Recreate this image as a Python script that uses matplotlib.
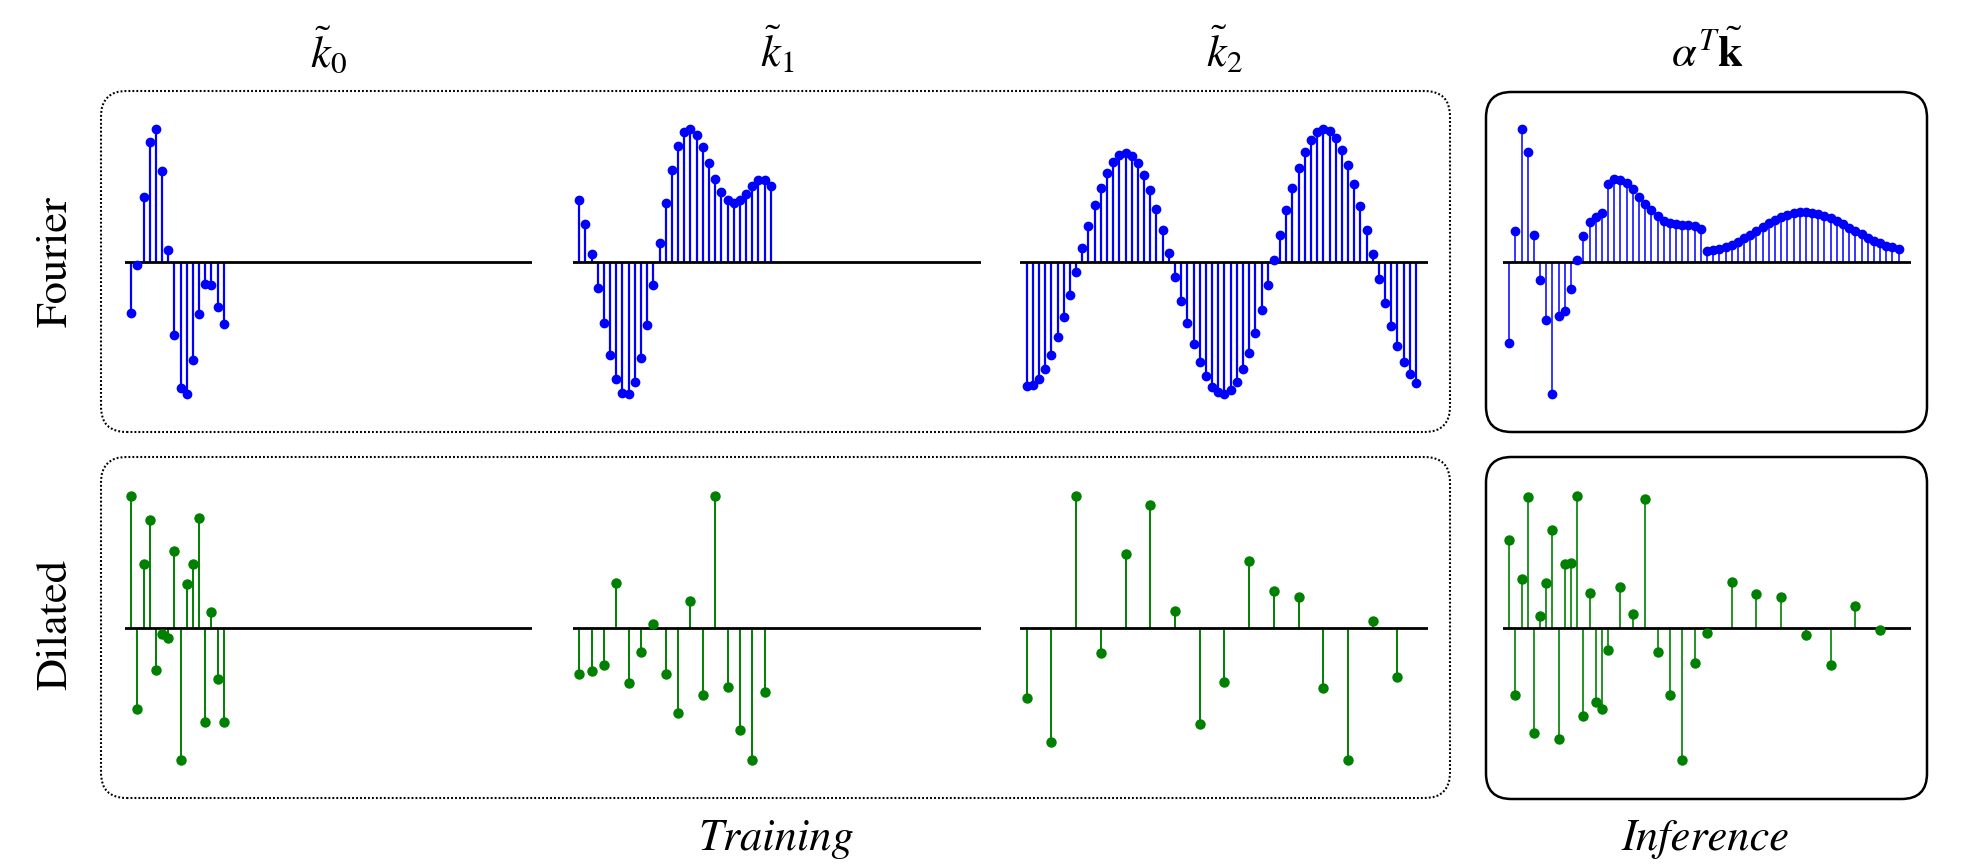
import numpy as np
import matplotlib
matplotlib.use("Agg")
import matplotlib.pyplot as plt
from matplotlib.patches import FancyBboxPatch

plt.rcParams['font.family'] = ['STIXGeneral', 'DejaVu Serif']
plt.rcParams['mathtext.fontset'] = 'stix'

# --- data (normalised to +-1) ---
fourier_k0 = [-0.385, -0.025, 0.489, 0.907, 1.0, 0.688, 0.086, -0.554,
              -0.957, -1.0, -0.746, -0.395, -0.171, -0.176, -0.343, -0.474]

fourier_k1 = [0.463, 0.287, 0.060, -0.199, -0.463, -0.703, -0.887, -0.990,
              -1.0, -0.909, -0.728, -0.476, -0.174, 0.144, 0.441, 0.690,
              0.874, 0.977, 1.0, 0.957, 0.864, 0.743, 0.622, 0.524,
              0.463, 0.443, 0.469, 0.514, 0.572, 0.615, 0.620, 0.572]

fourier_k2 = [-0.940, -0.932, -0.889, -0.809, -0.705, -0.569, -0.418, -0.249,
              -0.076, 0.101, 0.270, 0.426, 0.559, 0.673, 0.756, 0.806,
              0.824, 0.801, 0.743, 0.655, 0.539, 0.398, 0.237, 0.063,
              -0.118, -0.295, -0.466, -0.622, -0.758, -0.864, -0.945, -0.987,
              -1.0, -0.972, -0.909, -0.814, -0.688, -0.537, -0.365, -0.179,
              0.013, 0.204, 0.388, 0.559, 0.708, 0.831, 0.922, 0.982,
              1.0, 0.987, 0.932, 0.844, 0.728, 0.584, 0.421, 0.239,
              0.055, -0.134, -0.315, -0.486, -0.635, -0.758, -0.851, -0.914]

fourier_inf = [-0.612, 0.229, 1.0, 0.826, 0.199, -0.136, -0.443, -1.0,
               -0.413, -0.375, -0.209, 0.010, 0.194, 0.297, 0.338, 0.368,
               0.589, 0.622, 0.617, 0.592, 0.547, 0.491, 0.438, 0.388,
               0.345, 0.310, 0.292, 0.282, 0.280, 0.277, 0.267, 0.249,
               0.083, 0.088, 0.098, 0.111, 0.128, 0.151, 0.176, 0.204,
               0.234, 0.264, 0.290, 0.315, 0.335, 0.353, 0.365, 0.373,
               0.375, 0.370, 0.360, 0.345, 0.327, 0.307, 0.282, 0.257,
               0.232, 0.207, 0.181, 0.159, 0.139, 0.121, 0.108, 0.096]

dilated_k0 = [1.0, -0.615, 0.484, 0.816, -0.320, -0.045, -0.076, 0.582,
              -1.0, 0.335, 0.484, 0.829, -0.713, 0.123, -0.388, -0.713]
dilated_k1 = [-0.350, -0.325, -0.280, 0.338, -0.416, -0.181, 0.030, -0.350,
              -0.642, 0.207, -0.506, 1.0, -0.448, -0.768, -1.0, -0.486]
dilated_k2 = [-0.531, -0.861, 1.0, -0.186, 0.562, 0.929, 0.131, -0.723,
              -0.411, 0.506, 0.282, 0.234, -0.456, -1.0, 0.055, -0.370]

dilated_inf_idx = list(range(16)) + list(range(16, 32, 2)) + list(range(32, 64, 4))
dilated_inf = [0.665, -0.506, 0.370, 0.987, -0.791, 0.088, 0.340, 0.743,
               -0.839, 0.486, 0.489, 1.0, -0.665, 0.267, -0.562, -0.610,
               -0.164, 0.310, 0.106, 0.972, -0.184, -0.506, -1.0, -0.267,
               -0.035, 0.348, 0.254, 0.234, -0.053, -0.282, 0.164, -0.018]

col_titles = [r'$\tilde{k}_0$', r'$\tilde{k}_1$', r'$\tilde{k}_2$', r'$\alpha^T\tilde{\mathbf{k}}$']
row_labels = ['Fourier', 'Dilated']

W, H = 1964, 866
fig = plt.figure(figsize=(W / 100, H / 100), dpi=100)


def fx(px):
    return px / W


def fy(py):
    return 1 - py / H


def add_ax(x0, x1, y0, y1):
    ax = fig.add_axes([fx(x0), fy(y1), fx(x1) - fx(x0), fy(y0) - fy(y1)])
    ax.set_xlim(-1, 65)
    ax.set_ylim(-1.2, 1.2)
    ax.axis('off')
    return ax


def draw_stem(ax, x, y, color, lw, ms):
    ml, sl, bl = ax.stem(x, y, linefmt='-', markerfmt='o', basefmt=' ')
    plt.setp(sl, color=color, linewidth=lw, zorder=2)
    plt.setp(ml, color=color, markersize=ms, zorder=4)
    ax.axhline(0, color='k', linewidth=2.0, zorder=3)


cols = [(125, 532), (573, 981), (1020.5, 1428.4), (1503, 1911)]
rows = [(102.9, 420.5), (469.2, 786.8)]

fourier = [fourier_k0, fourier_k1, fourier_k2]
dilated = [dilated_k0, dilated_k1, dilated_k2]
strides = [1, 2, 4]

for i in range(3):
    ax = add_ax(cols[i][0], cols[i][1], *rows[0])
    draw_stem(ax, np.arange(len(fourier[i])), fourier[i], 'b', 1.6, 6)
    ax = add_ax(cols[i][0], cols[i][1], *rows[1])
    draw_stem(ax, np.arange(len(dilated[i])) * strides[i], dilated[i], 'g', 1.4, 6.5)

ax = add_ax(cols[3][0], cols[3][1], *rows[0])
draw_stem(ax, np.arange(len(fourier_inf)), fourier_inf, 'b', 1.1, 6)
ax = add_ax(cols[3][0], cols[3][1], *rows[1])
draw_stem(ax, dilated_inf_idx, dilated_inf, 'g', 1.2, 6.5)

# rounded frames
frames = [((101, 91, 1450, 432), 'dotted'), ((101, 457, 1450, 798), 'dotted'),
          ((1486, 92, 1927, 432), 'solid'), ((1486, 457, 1927, 799), 'solid')]
for (x0, y0, x1, y1), style in frames:
    if style == 'dotted':
        ls, lw = (0, (0.9, 1.0)), 1.5
    else:
        ls, lw = '-', 1.8
    box = FancyBboxPatch((fx(x0), fy(y1)), fx(x1) - fx(x0), fy(y0) - fy(y1),
                         boxstyle='round,pad=0,rounding_size=0.013',
                         transform=fig.transFigure, fill=False,
                         edgecolor='k', linewidth=lw, linestyle=ls,
                         mutation_aspect=W / H)
    fig.patches.append(box)

for i, t in enumerate(col_titles):
    fig.text(fx((cols[i][0] + cols[i][1]) / 2), fy(67), t, fontsize=32,
             ha='center', va='baseline')

fig.text(fx(56), fy(262), row_labels[0], rotation=90, fontsize=32, ha='center', va='center')
fig.text(fx(56), fy(624), row_labels[1], rotation=90, fontsize=32, ha='center', va='center')

fig.text(fx(776), fy(850), 'Training', fontsize=32, style='italic', ha='center', va='baseline')
fig.text(fx(1705), fy(850), 'Inference', fontsize=32, style='italic', ha='center', va='baseline')

fig.savefig('out.png', dpi=100)
